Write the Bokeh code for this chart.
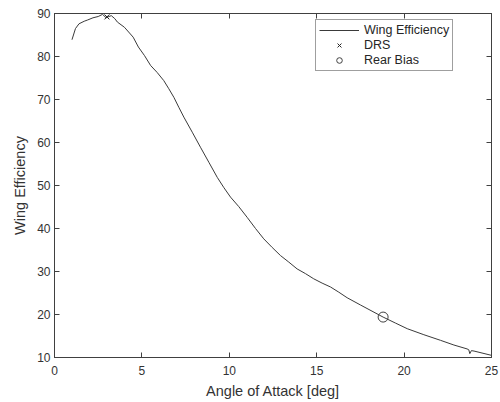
from bokeh.plotting import figure
from bokeh.models import LinearAxis, Range1d, FixedTicker, Legend, LegendItem
from bokeh.embed import file_html
from bokeh.resources import INLINE

aoa = [1.0, 1.2, 1.4, 1.7, 1.9, 2.2, 2.5, 2.75, 2.95, 3.05, 3.25, 3.45, 3.6, 4.0,
       4.5, 4.8, 5.15, 5.5, 5.87, 6.25, 6.54, 6.83, 7.11, 7.4, 7.88, 8.35, 8.83, 9.31,
       9.69, 10.07, 10.54, 11.02, 11.5, 11.97, 12.45, 12.93, 13.4, 13.88, 14.36, 14.83,
       15.31, 15.79, 16.26, 16.74, 17.51, 18.8, 19.51, 20.18, 21.13, 22.08, 22.85, 23.6,
       23.7, 23.76, 23.85, 24.0, 25.0]
eff = [83.9, 86.5, 87.6, 88.2, 88.5, 89.0, 89.3, 89.8, 89.0, 89.2, 89.5, 88.8, 88.0, 86.8,
       84.5, 82.2, 80.2, 77.9, 76.3, 74.4, 72.5, 70.5, 68.2, 65.9, 62.4, 58.9, 55.4, 51.9,
       49.5, 47.3, 45.1, 42.6, 40.0, 37.6, 35.6, 33.7, 32.2, 30.6, 29.5, 28.3,
       27.3, 26.4, 25.2, 23.9, 22.2, 19.4, 18.0, 16.7, 15.3, 14.0, 12.9, 12.0,
       11.8, 10.9, 11.6, 11.5, 10.5]
drs_x, drs_y = [3.0], [89.2]
rear_x, rear_y = [18.8], [19.4]
x_ticks = [0, 5, 10, 15, 20, 25]
y_ticks = [10, 20, 30, 40, 50, 60, 70, 80, 90]

AX = "#404040"
TXT = "#333333"
FONT = "Liberation Sans"

p = figure(width=500, height=402, output_backend="svg", toolbar_location=None,
           x_range=Range1d(0, 25), y_range=Range1d(10, 90),
           min_border_left=54, min_border_right=9, min_border_top=13, min_border_bottom=45)
p.grid.visible = False
p.outline_line_color = AX
p.outline_line_width = 1

for ax in (p.xaxis[0], p.yaxis[0]):
    ax.major_tick_in = 5
    ax.major_tick_out = 0
    ax.minor_tick_line_color = None
    ax.axis_line_color = AX
    ax.major_tick_line_color = AX
    ax.major_label_text_font = FONT
    ax.major_label_text_font_size = "12px"
    ax.major_label_text_color = TXT
    ax.axis_label_text_font = FONT
    ax.axis_label_text_font_size = "14.5px"
    ax.axis_label_text_font_style = "normal"
    ax.axis_label_text_color = TXT

p.xaxis[0].ticker = FixedTicker(ticks=x_ticks)
p.yaxis[0].ticker = FixedTicker(ticks=y_ticks)
p.xaxis[0].axis_label = "Angle of Attack [deg]"
p.yaxis[0].axis_label = "Wing Efficiency"
p.xaxis[0].major_label_standoff = 8
p.yaxis[0].major_label_standoff = 4
p.xaxis[0].axis_label_standoff = 5
p.yaxis[0].axis_label_standoff = 6

top = LinearAxis(ticker=FixedTicker(ticks=x_ticks),
                 major_label_overrides={t: "" for t in x_ticks},
                 major_tick_in=5, major_tick_out=0, minor_tick_line_color=None,
                 axis_line_color=AX, major_tick_line_color=AX)
right = LinearAxis(ticker=FixedTicker(ticks=y_ticks),
                   major_label_overrides={t: "" for t in y_ticks},
                   major_tick_in=5, major_tick_out=0, minor_tick_line_color=None,
                   axis_line_color=AX, major_tick_line_color=AX)
p.add_layout(top, "above")
p.add_layout(right, "right")

r_line = p.line(aoa, eff, line_color="#3a3a3a", line_width=1)
r_drs = p.scatter(drs_x, drs_y, marker="x", size=7, line_color="#262626", line_width=1)
r_rear = p.scatter(rear_x, rear_y, marker="circle", size=10, fill_color=None,
                   line_color="#404040", line_width=1)

legend = Legend(items=[LegendItem(label="Wing Efficiency", renderers=[r_line]),
                       LegendItem(label="DRS", renderers=[r_drs]),
                       LegendItem(label="Rear Bias", renderers=[r_rear])],
                location=(261, 286), label_text_font=FONT, label_text_font_size="12.5px",
                label_text_color="#262626", glyph_width=40, glyph_height=14,
                label_height=14, spacing=1, padding=3, margin=0, label_standoff=5,
                border_line_color=AX, border_line_width=1, background_fill_alpha=1)
p.add_layout(legend, "center")

open("out.html", "w").write(file_html(p, INLINE))
